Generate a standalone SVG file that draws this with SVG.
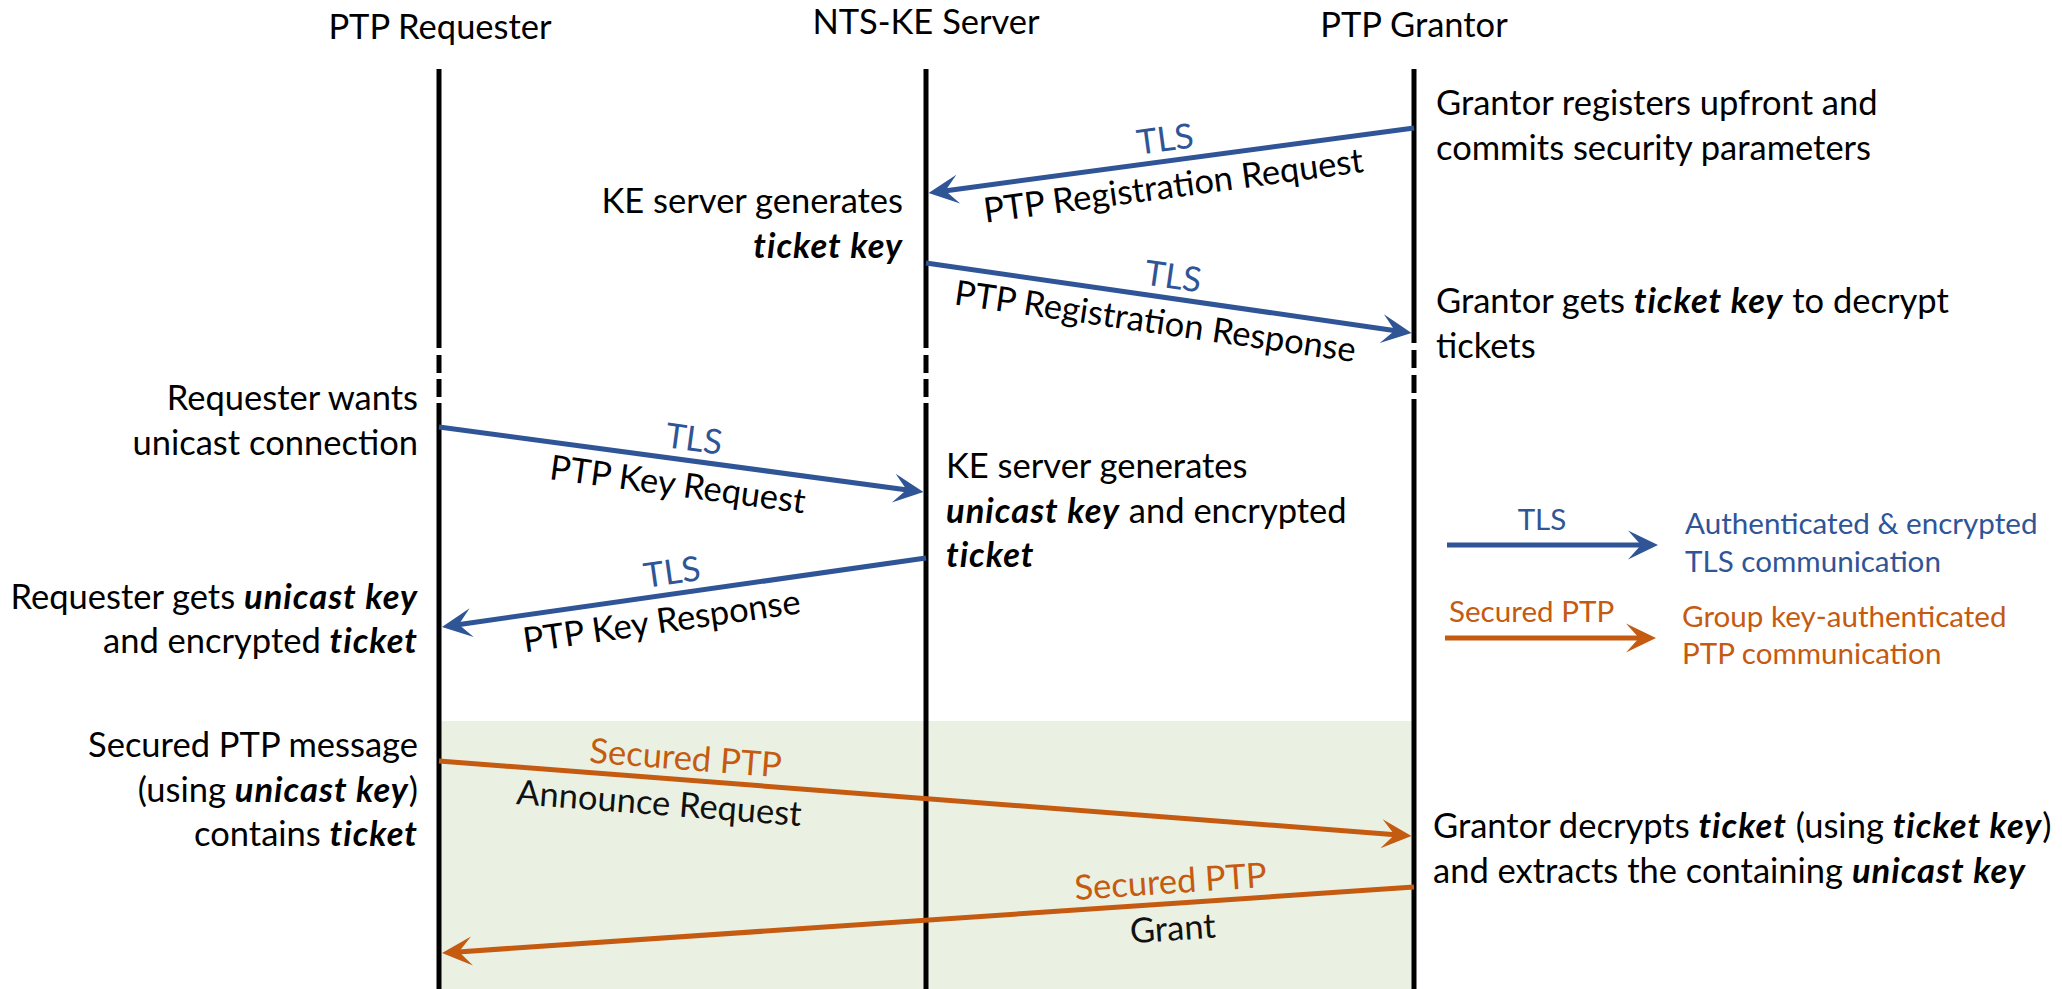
<svg xmlns="http://www.w3.org/2000/svg" width="2062" height="989" viewBox="0 0 2062 989">
  <style>
    text { font-family: Lato, "Open Sans", "Liberation Sans", sans-serif; font-size: 34.5px; fill: #000; }
    .hdr { text-anchor: middle; }
    .end { text-anchor: end; }
    .mid { text-anchor: middle; }
    .bi { font-weight: bold; font-style: italic; letter-spacing: 1px; }
    .tls { fill: #2F5597; }
    .sec { fill: #C55A11; }
    .dark { fill: #111; }
    .leg { font-size: 29.6px; }
    .life { stroke: #000; stroke-width: 5; fill: none; }
    .msg-tls { stroke: #2F5597; stroke-width: 5; fill: none; marker-end: url(#head-tls); }
    .msg-sec { stroke: #C55A11; stroke-width: 5; fill: none; marker-end: url(#head-sec); }
  </style>
  <defs>
    <marker id="head-tls" markerUnits="userSpaceOnUse" viewBox="-32 -16 34 32" markerWidth="34" markerHeight="32" refX="-16" refY="0" orient="auto">
      <path d="M0,0 L-30,-14.5 L-17,0 L-30,14.5 Z" fill="#2F5597"/>
    </marker>
    <marker id="head-sec" markerUnits="userSpaceOnUse" viewBox="-32 -16 34 32" markerWidth="34" markerHeight="32" refX="-16" refY="0" orient="auto">
      <path d="M0,0 L-30,-14.5 L-17,0 L-30,14.5 Z" fill="#C55A11"/>
    </marker>
  </defs>

  <rect width="2062" height="989" fill="#fff"/>

  <!-- secured PTP phase background -->
  <rect id="secured-phase" x="439" y="721" width="975" height="268" fill="#EAF1E2"/>

  <!-- PTP Requester lifeline and notes -->
  <g id="requester">
    <text class="hdr" x="440" y="39">PTP Requester</text>
    <path class="life" d="M439,69 V348 M439,355 V373 M439,379 V397 M439,403 V989"/>
    <text class="end" x="418" y="410">Requester wants</text>
    <text class="end" x="418" y="455">unicast connection</text>
    <text class="end" x="418" y="609">Requester gets <tspan class="bi">unicast key</tspan></text>
    <text class="end" x="418" y="653">and encrypted <tspan class="bi">ticket</tspan></text>
    <text class="end" x="418" y="757">Secured PTP message</text>
    <text class="end" x="418" y="802">(using <tspan class="bi">unicast key</tspan>)</text>
    <text class="end" x="418" y="846">contains <tspan class="bi">ticket</tspan></text>
  </g>

  <!-- NTS-KE Server lifeline and notes -->
  <g id="nts-ke-server">
    <text class="hdr" x="926" y="34">NTS-KE Server</text>
    <path class="life" d="M926,69 V348 M926,355 V373 M926,379 V397 M926,403 V989"/>
    <text class="end" x="903" y="213">KE server generates</text>
    <text class="end" x="903" y="258"><tspan class="bi">ticket key</tspan></text>
    <text x="946" y="478">KE server generates</text>
    <text x="946" y="523"><tspan class="bi">unicast key</tspan> and encrypted</text>
    <text x="946" y="567"><tspan class="bi">ticket</tspan></text>
  </g>

  <!-- PTP Grantor lifeline and notes -->
  <g id="grantor">
    <text class="hdr" x="1414" y="37">PTP Grantor</text>
    <path class="life" d="M1414,69 V343 M1414,350 V368 M1414,375 V393 M1414,399 V989"/>
    <text x="1436" y="115">Grantor registers upfront and</text>
    <text x="1436" y="160">commits security parameters</text>
    <text x="1436" y="313">Grantor gets <tspan class="bi">ticket key</tspan> to decrypt</text>
    <text x="1436" y="358">tickets</text>
    <text x="1433" y="838">Grantor decrypts <tspan class="bi">ticket</tspan> (using <tspan class="bi">ticket key</tspan>)</text>
    <text x="1433" y="883">and extracts the containing <tspan class="bi">unicast key</tspan></text>
  </g>

  <!-- messages -->
  <g id="connectors">
    <!-- PTP Registration Request -->
    <line class="msg-tls" x1="1414" y1="128" x2="944.4" y2="190.9"/>
    <text class="mid tls" transform="translate(1168,160.9) rotate(-7.63)" y="-10">TLS</text>
    <text class="mid" transform="translate(1170,160.7) rotate(-7.63)" y="37">PTP Registration Request</text>

    <!-- PTP Registration Response -->
    <line class="msg-tls" x1="926" y1="263" x2="1395.7" y2="330.7"/>
    <text class="mid tls" transform="translate(1170,298.2) rotate(8.2)" y="-10">TLS</text>
    <text class="mid" transform="translate(1159,296.6) rotate(8.2)" y="37">PTP Registration Response</text>

    <!-- PTP Key Request -->
    <line class="msg-tls" x1="439" y1="427" x2="907.6" y2="489.9"/>
    <text class="mid tls" transform="translate(691,460.8) rotate(7.64)" y="-10">TLS</text>
    <text class="mid" transform="translate(681,459.5) rotate(7.64)" y="37">PTP Key Request</text>

    <!-- PTP Key Response -->
    <line class="msg-tls" x1="926" y1="558" x2="457.8" y2="624.7"/>
    <text class="mid tls" transform="translate(675,593.8) rotate(-8.11)" y="-10">TLS</text>
    <text class="mid" transform="translate(658,596.2) rotate(-8.11)" y="37">PTP Key Response</text>

    <!-- Announce Request -->
    <line class="msg-sec" x1="439" y1="761" x2="1395.5" y2="834.8"/>
    <text class="mid sec" transform="translate(684,779.9) rotate(4.41)" y="-10">Secured PTP</text>
    <text class="mid dark" transform="translate(661,778.1) rotate(4.41)" y="37">Announce Request</text>

    <!-- Grant -->
    <line class="msg-sec" x1="1414" y1="887" x2="458" y2="951.9"/>
    <text class="mid sec" transform="translate(1172,903.4) rotate(-3.88)" y="-10">Secured PTP</text>
    <text class="mid dark" transform="translate(1171,903.5) rotate(-3.88)" y="37">Grant</text>
  </g>

  <!-- legend -->
  <g id="legend">
    <text class="leg mid tls" x="1542" y="530">TLS</text>
    <line class="msg-tls" x1="1447" y1="545" x2="1642" y2="545"/>
    <text class="leg tls" x="1685" y="534">Authenticated &amp; encrypted</text>
    <text class="leg tls" x="1685" y="572">TLS communication</text>
    <text class="leg sec" x="1449" y="622">Secured PTP</text>
    <line class="msg-sec" x1="1445" y1="638" x2="1640" y2="638"/>
    <text class="leg sec" x="1682" y="627">Group key-authenticated</text>
    <text class="leg sec" x="1682" y="664">PTP communication</text>
  </g>
</svg>
